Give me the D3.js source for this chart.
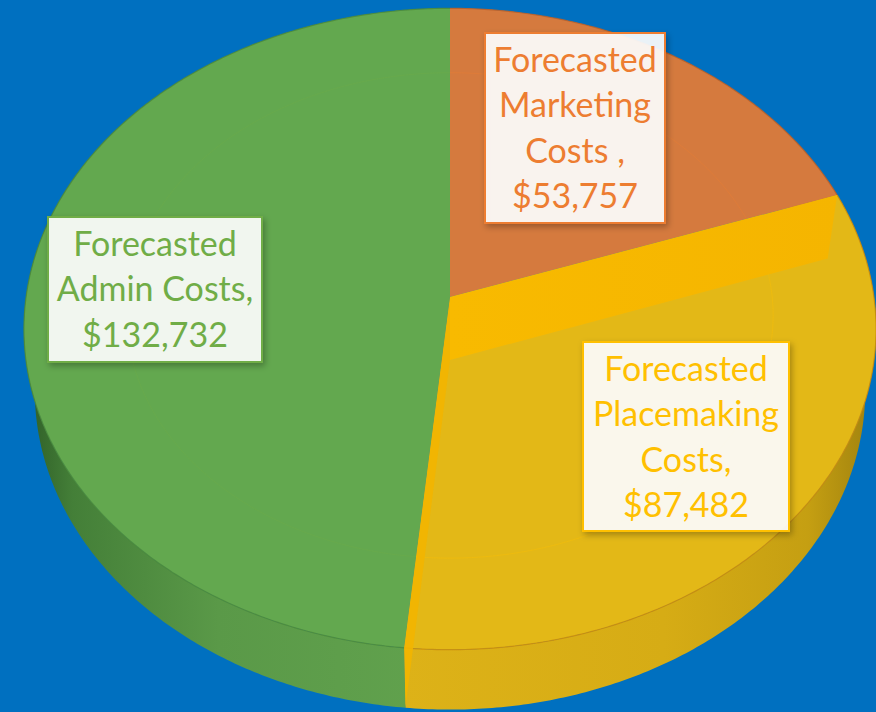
<!DOCTYPE html>
<html>
<head>
<meta charset="utf-8">
<script src="https://cdn.jsdelivr.net/npm/d3@7"></script>
<style>
  html, body { margin: 0; padding: 0; background: #0070C0; }
  svg { display: block; }
</style>
</head>
<body>
<svg id="chart" width="876" height="712"></svg>
<script>
// data
var categories = ["Forecasted Marketing Costs", "Forecasted Placemaking Costs", "Forecasted Admin Costs"];
var values = [53757, 87482, 132732];
var labelLines = [
  ["Forecasted", "Marketing", "Costs ,"],
  ["Forecasted", "Placemaking", "Costs,"],
  ["Forecasted", "Admin Costs,"]
];

// styles
var topColors = ["#D57A3E", "#E3B817", "#63A84F"];
var edgeColors = ["#ED7D31", "#FFC000", "#70AD47"];
var seamColors = ["#B8602A", "#C98A0C", "#4C8A3A"];
var boxes = [
  { x: 485, y: 33, w: 180, h: 190 },
  { x: 583, y: 342, w: 206, h: 189 },
  { x: 48, y: 217, w: 214, h: 145 }
];

// perspective view of the pie
var view = { cx: 450, cy: 297, tilt: 48.5 * Math.PI / 180, dist: 6.64, focal: 2815, thick: 0.23 };

function project(theta, r, h) {
  var X = r * Math.sin(theta), Z = -r * Math.cos(theta);
  var ce = Math.cos(view.tilt), se = Math.sin(view.tilt);
  var up = h * ce - Z * se;
  var depth = view.dist - (h * se + Z * ce);
  return [view.cx + view.focal * X / depth, view.cy - view.focal * up / depth];
}

function arcPts(a0, a1, r, h) {
  var n = Math.max(2, Math.ceil(Math.abs(a1 - a0) / 0.01));
  return d3.range(n + 1).map(function(i) { return project(a0 + (a1 - a0) * i / n, r, h); });
}

var line = d3.line();
var svg = d3.select("#chart");
var defs = svg.append("defs");

var shadow = defs.append("filter").attr("id", "shadow")
  .attr("x", "-10%").attr("y", "-10%").attr("width", "130%").attr("height", "130%");
shadow.append("feDropShadow").attr("dx", 2).attr("dy", 3).attr("stdDeviation", 3)
  .attr("flood-color", "#000").attr("flood-opacity", 0.3);

function grad(id, x1, x2, stops) {
  var g = defs.append("linearGradient").attr("id", id)
    .attr("gradientUnits", "userSpaceOnUse")
    .attr("x1", x1).attr("x2", x2).attr("y1", 0).attr("y2", 0);
  stops.forEach(function(s) { g.append("stop").attr("offset", s[0]).attr("stop-color", s[1]); });
}
grad("wall0", 440, 880, [[0, "#C46D35"], [1, "#9E5426"]]);
grad("wall1", 400, 880, [[0, "#DDB218"], [0.55, "#D6AC15"], [0.85, "#C59F12"], [1, "#9C7F0E"]]);
grad("wall2", 20, 460, [[0, "#2C5A25"], [0.12, "#447F38"], [0.45, "#5A9948"], [1, "#62A34E"]]);
grad("band", 450, 840, [[0, "#F8BA00"], [1, "#F5B500"]]);

svg.append("rect").attr("width", 876).attr("height", 712).attr("fill", "#0070C0");

var arcs = d3.pie().sort(null).startAngle(0).endAngle(2 * Math.PI)(values);
var H = -view.thick;

// outer walls
svg.append("g").selectAll("path").data(arcs).enter().append("path")
  .attr("d", function(d) {
    var pts = arcPts(d.startAngle, d.endAngle, 1, 0)
      .concat(arcPts(d.endAngle, d.startAngle, 1, H));
    return line(pts) + "Z";
  })
  .attr("fill", function(d, i) { return "url(#wall" + i + ")"; });

// top faces
svg.append("g").selectAll("path").data(arcs).enter().append("path")
  .attr("d", function(d) {
    var pts = [project(0, 0, 0)].concat(arcPts(d.startAngle, d.endAngle, 1, 0));
    return line(pts) + "Z";
  })
  .attr("fill", function(d, i) { return topColors[i]; });

// faint inner rings
svg.append("g").selectAll("path").data(arcs).enter().append("path")
  .attr("d", function(d) { return line(arcPts(d.startAngle, d.endAngle, 0.76, 0)); })
  .attr("fill", "none")
  .attr("stroke", function(d, i) { return edgeColors[i]; })
  .attr("stroke-opacity", 0.35)
  .attr("stroke-width", 1);

// seam between top face and wall
svg.append("g").selectAll("path").data(arcs).enter().append("path")
  .attr("d", function(d) { return line(arcPts(d.startAngle, d.endAngle, 1, 0)); })
  .attr("fill", "none")
  .attr("stroke", function(d, i) { return seamColors[i]; })
  .attr("stroke-width", 1.2)
  .attr("stroke-opacity", 0.8);

// radial walls of the placemaking slice
var yel = arcs[1];
function radialWall(a) {
  return line([project(0, 0, 0), project(a, 1, 0), project(a, 1, H), project(0, 0, H)]) + "Z";
}
svg.append("path").attr("d", radialWall(yel.endAngle)).attr("fill", "#F2B500").attr("fill-opacity", 0.9);
svg.append("path").attr("d", radialWall(yel.startAngle)).attr("fill", "url(#band)");

// labels
var fmt = d3.format("$,");
var lab = svg.append("g").selectAll("g").data(arcs).enter().append("g");
lab.append("rect")
  .attr("x", function(d, i) { return boxes[i].x; })
  .attr("y", function(d, i) { return boxes[i].y; })
  .attr("width", function(d, i) { return boxes[i].w; })
  .attr("height", function(d, i) { return boxes[i].h; })
  .attr("fill", "#FFFFFF").attr("fill-opacity", 0.9)
  .attr("stroke", function(d, i) { return edgeColors[i]; })
  .attr("stroke-width", 2)
  .attr("filter", "url(#shadow)");
lab.each(function(d, i) {
  var b = boxes[i];
  var lines = labelLines[i].concat([fmt(d.data)]);
  d3.select(this).selectAll("text").data(lines).enter().append("text")
    .attr("x", b.x + b.w / 2)
    .attr("y", function(t, j) { return b.y + 39 + j * 45.3; })
    .attr("text-anchor", "middle")
    .attr("font-family", "Lato, 'Open Sans', sans-serif")
    .attr("font-size", 34)
    .attr("fill", edgeColors[i])
    .text(function(t) { return t; });
});
</script>
</body>
</html>
